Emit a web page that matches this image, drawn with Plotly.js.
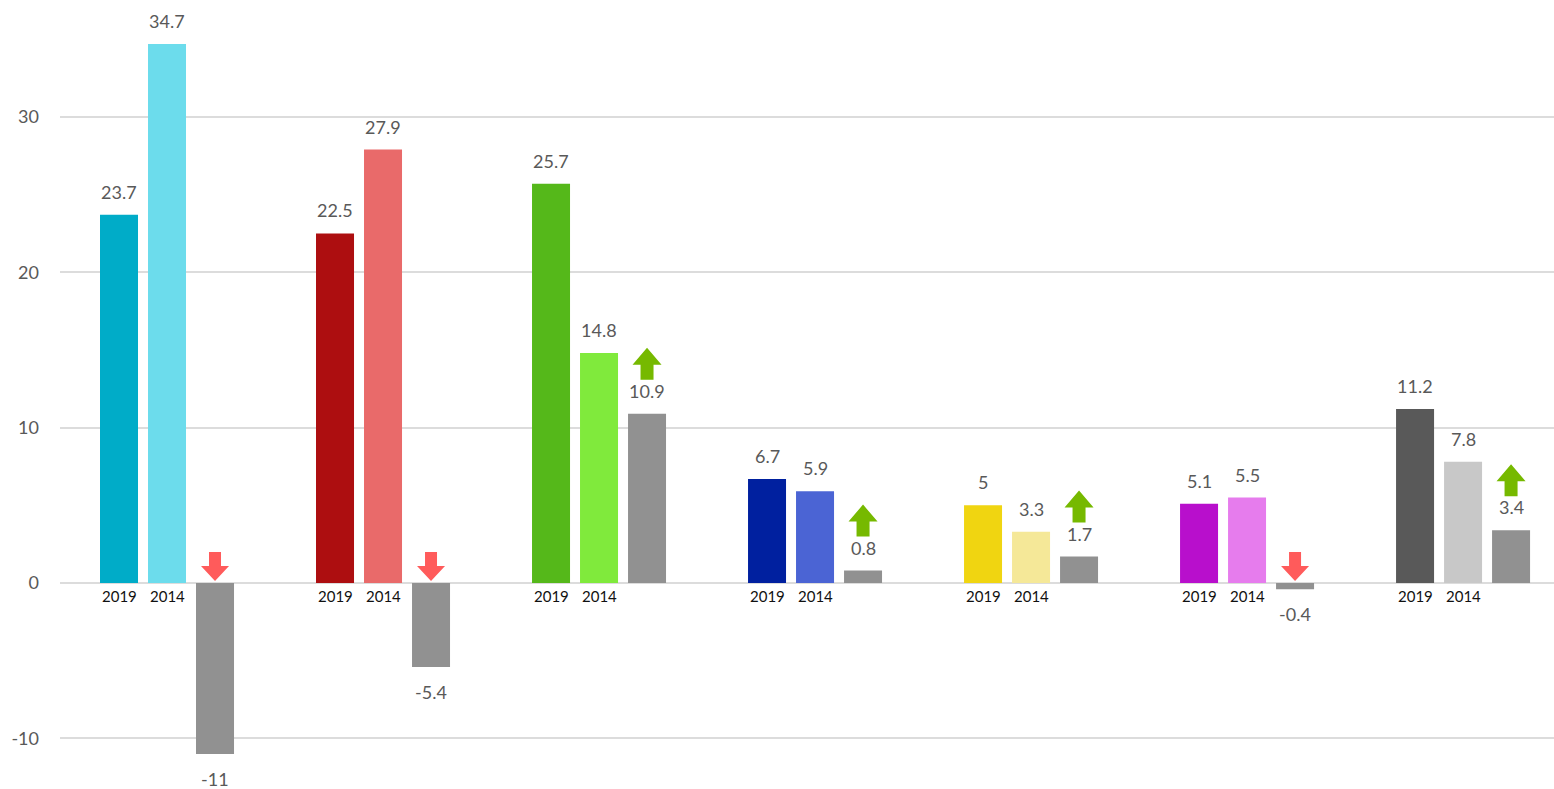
<!DOCTYPE html>
<html>
<head>
<meta charset="utf-8">
<script src="https://cdn.plot.ly/plotly-3.0.1.min.js"></script>
<style>html,body{margin:0;padding:0;background:#fff;}#chart{width:1554px;height:789px;}</style>
</head>
<body>
<div id="chart"></div>
<script>
// ---- data ----
const groups = [0, 1, 2, 3, 4, 5, 6];
const values2019 = [23.7, 22.5, 25.7, 6.7, 5, 5.1, 11.2];
const values2014 = [34.7, 27.9, 14.8, 5.9, 3.3, 5.5, 7.8];
const valuesDiff = [-11, -5.4, 10.9, 0.8, 1.7, -0.4, 3.4];
const colors2019 = ['#00acc8', '#ad0e10', '#55b81a', '#00209f', '#f0d511', '#b80fcc', '#595959'];
const colors2014 = ['#6cdcec', '#e96a6a', '#80ea3c', '#4b64d4', '#f5e898', '#e67ced', '#c8c8c8'];
const seriesLabels = ['2019', '2014'];
const yTickVals = [-10, 0, 10, 20, 30];
const yTickText = ['-10', '0', '10', '20', '30'];

// ---- style ----
const FONT = 'Lato, "Open Sans", sans-serif';
const diffColor = '#919191';
const labelColor = '#595959';
const STEP = 48; // px between bars in a group

const traces = [
  {type: 'bar', x: groups, y: values2019, marker: {color: colors2019}, hoverinfo: 'y'},
  {type: 'bar', x: groups, y: values2014, marker: {color: colors2014}, hoverinfo: 'y'},
  {type: 'bar', x: groups, y: valuesDiff, marker: {color: diffColor}, hoverinfo: 'y'}
];

const annotations = [];
const shapes = [];
const seriesVals = [values2019, values2014, valuesDiff];
groups.forEach((g, i) => {
  seriesVals.forEach((arr, s) => {
    const v = arr[i];
    const xs = (s - 1) * STEP;
    annotations.push({
      x: g, y: v, xref: 'x', yref: 'y', xshift: xs,
      yshift: v >= 0 ? 23 : -25,
      text: String(v), showarrow: false,
      font: {family: FONT, size: 18, color: labelColor},
      xanchor: 'center', yanchor: 'middle'
    });
    if (s < 2) {
      annotations.push({
        x: g, y: 0, xref: 'x', yref: 'y', xshift: xs, yshift: -13,
        text: seriesLabels[s], showarrow: false,
        font: {family: FONT, size: 15, color: '#111111'},
        xanchor: 'center', yanchor: 'middle'
      });
    }
  });
  const d = valuesDiff[i];
  const ox = STEP;
  let path;
  if (d >= 0) {
    path = `M${ox-6.5},34 L${ox+6.5},34 L${ox+6.5},49 L${ox+14.5},49 L${ox},66 L${ox-14.5},49 L${ox-6.5},49 Z`;
  } else {
    path = `M${ox-6},31 L${ox+6},31 L${ox+6},17 L${ox+14},17 L${ox},2 L${ox-14},17 L${ox-6},17 Z`;
  }
  shapes.push({
    type: 'path', xref: 'x', yref: 'y',
    xsizemode: 'pixel', ysizemode: 'pixel',
    xanchor: g, yanchor: d >= 0 ? d : 0,
    path: path,
    fillcolor: d >= 0 ? '#76b900' : '#ff5b5b',
    line: {width: 0}, layer: 'above'
  });
});

const layout = {
  width: 1554, height: 789,
  margin: {l: 60, r: 0, t: 0, b: 0},
  paper_bgcolor: '#ffffff', plot_bgcolor: '#ffffff',
  showlegend: false,
  barmode: 'group', bargap: 0.3333, bargroupgap: 0.2083,
  font: {family: FONT, size: 18, color: labelColor},
  xaxis: {range: [-0.4954, 6.421], showticklabels: false, showgrid: false, zeroline: false, showline: false, fixedrange: true},
  yaxis: {
    range: [-13.26, 37.53], tickmode: 'array', tickvals: yTickVals, ticktext: yTickText,
    showgrid: true, gridcolor: '#dcdcdc', gridwidth: 2,
    zeroline: true, zerolinecolor: '#dcdcdc', zerolinewidth: 2,
    showline: false, ticks: '', ticklabelstandoff: 20,
    tickfont: {family: FONT, size: 18, color: labelColor}
  },
  annotations: annotations,
  shapes: shapes
};

Plotly.newPlot('chart', traces, layout, {displayModeBar: false, staticPlot: true});
</script>
</body>
</html>
